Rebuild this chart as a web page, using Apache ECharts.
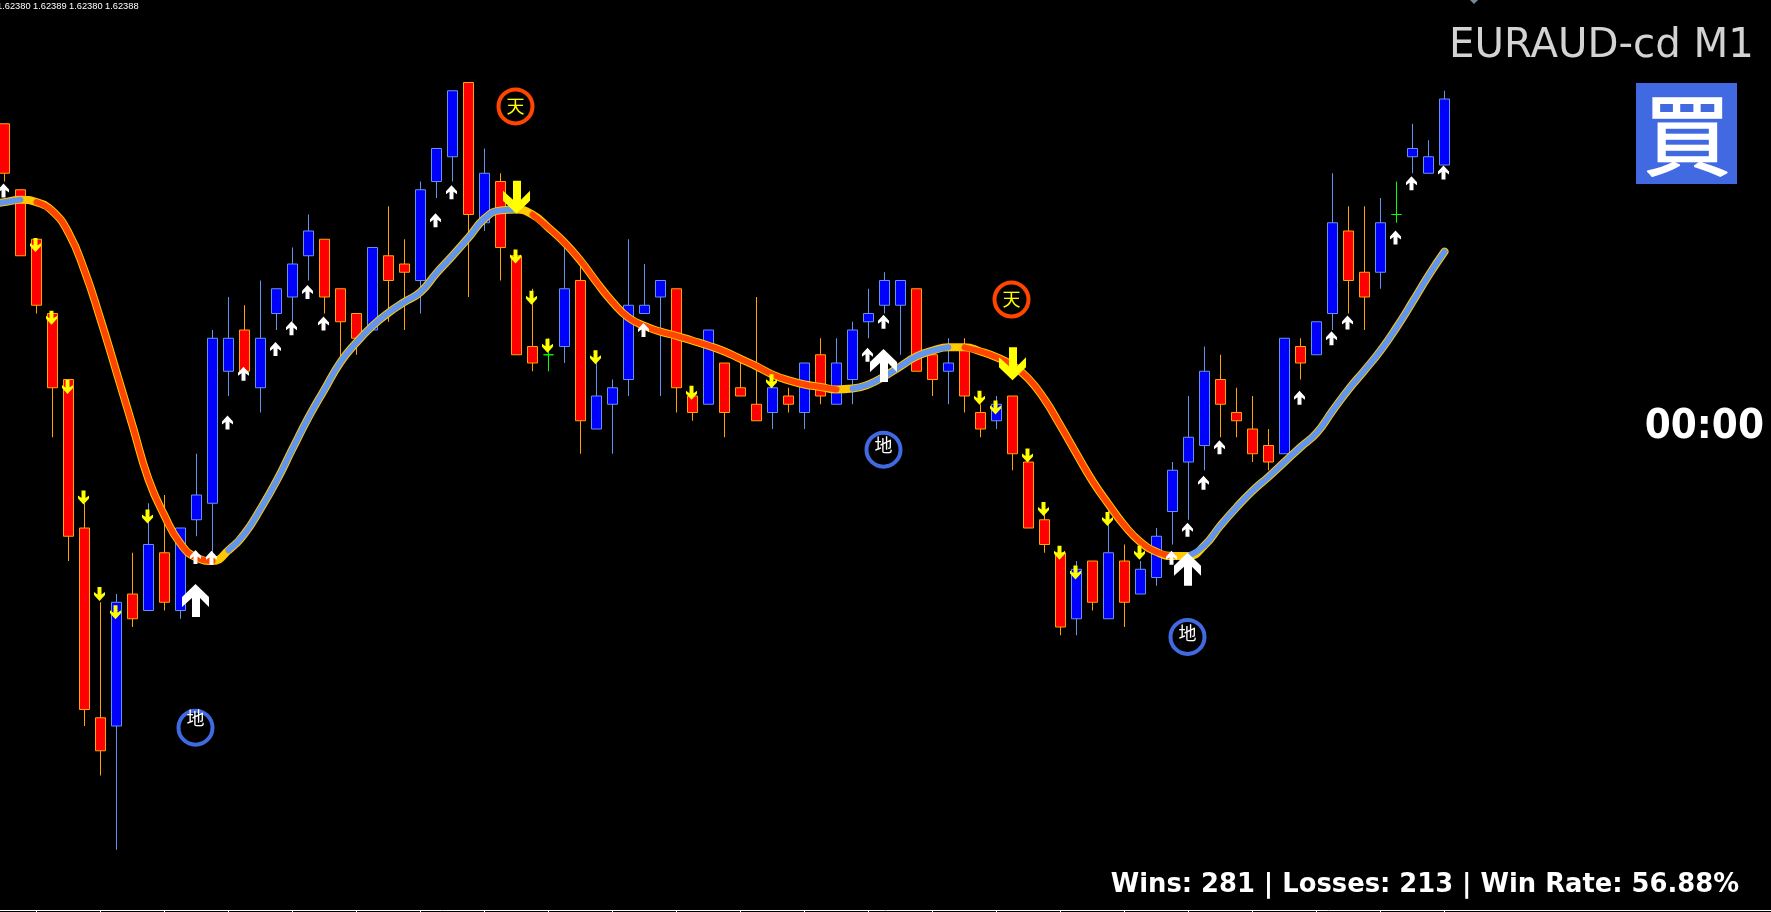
<!DOCTYPE html>
<html>
<head>
<meta charset="utf-8">
<style>html,body{margin:0;padding:0;background:#000}#c{width:1771px;height:912px}</style>
<script src="https://cdn.jsdelivr.net/npm/echarts@6/dist/echarts.min.js"></script>
</head>
<body>
<div id="c"></div>
<script>
// All prices are given in points (0.00001) relative to the last close.
const lastClose = 1.62388;
const openPts  = [-3,-11,-17,-26,-34,-52,-75,-76,-60,-62,-55,-62,-51,-49,-33,-28,-35,-26,-24,-19,-17,-23,-26,-28,-19,-20,-22,-10,-7,2,-15,-10,-19,-30,-31,-30,-22,-40,-37,-34,-26,-24,-23,-36,-37,-32,-35,-37,-38,-36,-38,-31,-37,-34,-27,-25,-25,-23,-31,-33,-30,-38,-39,-36,-44,-51,-55,-63,-56,-63,-56,-60,-58,-50,-44,-42,-34,-38,-40,-42,-43,-30,-31,-26,-16,-21,-21,-14,-7,-9,-8];
const closePts = [-9,-19,-25,-35,-53,-74,-79,-61,-63,-54,-61,-52,-48,-29,-29,-33,-29,-23,-20,-16,-24,-27,-29,-18,-22,-21,-11,-6,1,-14,-9,-18,-31,-32,-31,-23,-39,-36,-35,-25,-25,-22,-35,-38,-28,-38,-36,-39,-35,-37,-32,-36,-32,-28,-26,-22,-22,-33,-34,-32,-36,-40,-37,-43,-52,-54,-64,-57,-61,-55,-61,-57,-53,-45,-41,-33,-37,-39,-43,-44,-29,-32,-27,-15,-22,-24,-15,-14,-6,-7,0];
const highPts  = [-3,-11,-17,-26,-34,-49,-61,-60,-55,-49,-48,-52,-43,-28,-24,-25,-22,-23,-18,-14,-17,-23,-26,-18,-13,-17,-10,-6,1,2,-6,-9,-19,-23,-29,-18,-20,-31,-34,-17,-20,-22,-23,-35,-28,-32,-32,-24,-34,-35,-32,-29,-29,-27,-23,-21,-22,-23,-31,-29,-29,-37,-36,-36,-44,-50,-55,-56,-56,-49,-54,-56,-52,-44,-36,-30,-31,-35,-36,-40,-29,-29,-27,-9,-13,-13,-12,-10,-3,-5,1];
const lowPts   = [-10,-19,-26,-41,-56,-76,-82,-91,-64,-62,-62,-63,-53,-55,-36,-33,-38,-28,-27,-22,-26,-32,-31,-28,-27,-28,-26,-12,-10,-24,-16,-22,-31,-33,-33,-32,-43,-40,-43,-36,-26,-36,-38,-39,-37,-41,-36,-39,-40,-38,-40,-37,-37,-37,-29,-26,-31,-33,-36,-37,-38,-41,-40,-45,-52,-55,-65,-65,-62,-63,-64,-60,-59,-54,-51,-45,-41,-41,-44,-45,-43,-34,-31,-28,-26,-28,-23,-15,-9,-9,-8];
// Moving average: one value before the first visible candle, then one per candle.
const maBefore = -12.8;
const maPts = [-12.5,-12.2,-12.5,-13.6,-16.2,-20.8,-26.7,-33.1,-39.6,-46.1,-50.5,-53.9,-55.6,-56.0,-54.7,-52.7,-49.7,-46.3,-42.4,-38.6,-35.2,-31.9,-29.5,-27.5,-25.9,-24.6,-23.4,-21.1,-19.0,-16.8,-14.5,-13.5,-13.4,-14.0,-15.6,-17.4,-19.6,-22.2,-24.6,-26.5,-27.5,-28.2,-28.7,-29.3,-29.9,-30.6,-31.5,-32.4,-33.4,-34.1,-34.6,-34.9,-35.2,-35.1,-34.6,-33.6,-32.4,-31.2,-30.5,-30.1,-30.1,-30.6,-31.3,-32.3,-33.9,-36.4,-39.6,-43.0,-46.3,-49.1,-51.7,-53.7,-54.9,-55.4,-55.4,-54.1,-51.7,-49.5,-47.5,-45.8,-44.0,-42.2,-40.5,-37.8,-35.2,-32.9,-30.5,-27.7,-24.6,-21.4,-18.5];
// Trend colour runs of the moving average: [first candle, last candle]
const maUpRuns   = [[-1,1],[14,32],[53,59],[74,90]];
const maDownRuns = [[2,13],[33,52],[60,73]];
const smallUp   = [[0,-11.1],[12,-55.5],[13,-55.6],[14,-39.2],[15,-33.3],[17,-30.3],[18,-27.8],[19,-23.4],[20,-27.2],[27,-14.7],[28,-11.3],[40,-28.0],[54,-31.0],[55,-27.0],[73,-55.6],[74,-52.2],[75,-46.5],[76,-42.2],[81,-36.2],[83,-29.0],[84,-27.1],[87,-16.8],[88,-10.2],[90,-8.9]];
const smallDown = [[2,-17.7],[3,-26.5],[4,-34.9],[5,-48.3],[6,-60.0],[7,-62.2],[9,-50.6],[32,-19.1],[33,-24.1],[34,-29.9],[37,-31.3],[43,-35.6],[48,-34.2],[61,-36.2],[62,-37.4],[64,-43.2],[65,-49.7],[66,-55.0],[67,-57.4],[69,-50.9],[71,-55.0]];
const bigUp   = [[12,-60.8],[55,-32.3],[74,-57.0]];
const bigDown = [[32,-11.9],[63,-32.1]];
const tenMarks = [[32,-0.9],[63,-24.3]];
const chiMarks = [[55,-42.5,-4],[74,-65.2,-4],[12,-76.2,-10]];
const slotCount = 112;
const quoteTexts = ['1.62380','1.62389','1.62380','1.62388'];
const symbolText = 'EURAUD-cd M1';
const signalText = '買';
const timerText = '00:00';
const statsText = 'Wins: 281 | Losses: 213 | Win Rate: 56.88%';

const px = p => +(lastClose + p / 100000).toFixed(7);
// Slot 0 of the axis lies off the left edge, so candle i sits in slot i + 1.
const categories = Array.from({length: slotCount}, (_, i) => String(i));
const candles = ['-'].concat(openPts.map((o, i) => {
  const v = [px(o), px(closePts[i]), px(lowPts[i]), px(highPts[i])];
  if (o === closePts[i]) {
    return {value: v, itemStyle: {color: '#00ff00', color0: '#00ff00', borderColor: '#00ff00', borderColor0: '#00ff00', borderColorDoji: '#00ff00'}};
  }
  return v;
}));
const maSeries = [maBefore].concat(maPts);
const maAll = maSeries.map(px);
const runs = rs => maSeries.map((v, s) => rs.some(r => s - 1 >= r[0] && s - 1 <= r[1]) ? px(v) : null);
const pts = a => a.map(d => [String(d[0] + 1), px(d[1])]);

const upArrow = 'path://M5.5,0 L11,6 L11,9 L7.5,6.5 L7.5,14 L3.5,14 L3.5,6.5 L0,9 L0,6 Z';
const downArrow = 'path://M3.5,0 L7.5,0 L7.5,7.5 L11,5 L11,8 L5.5,14 L0,8 L0,5 L3.5,7.5 Z';
const bigUpArrow = 'path://M13.5,0 L27,13 L27,23 L18,14 L18,33 L10,33 L10,14 L0,23 L0,13 Z';
const bigDownArrow = 'path://M10,0 L18,0 L18,19 L27,10 L27,20 L13.5,33 L0,20 L0,10 L10,19 Z';

const arrow = (name, data, sym, size, color, z, off) => ({
  name, type: 'scatter', data: pts(data), symbol: sym, symbolSize: size, symbolOffset: off || [-1, 0],
  itemStyle: {color, opacity: 1}, z, silent: true, animation: false
});
const ring = (name, marks, color, textColor) => ({
  name, type: 'custom', z: 9, silent: true, animation: false,
  data: marks.map(m => [String(m[0] + 1), px(m[1])]),
  renderItem: (params, api) => {
    const p = api.coord([api.value(0), api.value(1)]);
    const dy = marks[params.dataIndex][2] || 0;
    return {type: 'group', children: [
      {type: 'circle', shape: {cx: p[0] - 1, cy: p[1], r: 17}, style: {fill: 'none', stroke: color, lineWidth: 4}},
      {type: 'text', x: p[0] - 1, y: p[1] + dy, style: {text: name, fill: textColor, fontSize: 18, fontFamily: '"Noto Sans CJK JP"', align: 'center', verticalAlign: 'middle'}}
    ]};
  }
});

const chart = echarts.init(document.getElementById('c'), null, {renderer: 'canvas'});
chart.setOption({
  animation: false,
  backgroundColor: '#000000',
  grid: {left: -19.5, top: 0, width: 16 * slotCount, height: 910, containLabel: false, outerBoundsMode: 'none'},
  xAxis: {
    type: 'category', data: categories, boundaryGap: true,
    axisLine: {show: true, onZero: false, lineStyle: {color: '#ffffff', width: 1}},
    axisTick: {show: true, length: 2, alignWithLabel: true, interval: i => i % 4 === 3 && i <= 91, lineStyle: {color: '#ffffff'}},
    axisLabel: {show: false}, splitLine: {show: false}
  },
  yAxis: {
    type: 'value', min: 1.622897, max: 1.624, scale: true,
    axisLine: {show: false}, axisTick: {show: false}, axisLabel: {show: false}, splitLine: {show: false}
  },
  series: [
    {name: 'Bid', type: 'line', data: [], z: 1, silent: true,
      markLine: {silent: true, symbol: 'none', animation: false, label: {show: false},
        lineStyle: {color: '#778899', width: 1, type: 'solid'}, data: [{yAxis: lastClose}]}},
    {name: 'EURAUD', type: 'candlestick', data: candles, barWidth: 10, z: 2, silent: true,
      itemStyle: {color: '#0000ff', color0: '#ff0000', borderColor: '#6495ed', borderColor0: '#ffa500', borderWidth: 1}},
    {name: 'MA edge', type: 'line', data: maAll, smooth: 0.5, symbol: 'none', z: 3, silent: true, connectNulls: false,
      lineStyle: {color: '#ffc800', width: 8, cap: 'round', join: 'round'}},
    {name: 'MA up', type: 'line', data: runs(maUpRuns), smooth: 0.5, symbol: 'none', z: 4, silent: true, connectNulls: false,
      lineStyle: {color: '#6495ed', width: 6, cap: 'round', join: 'round'}},
    {name: 'MA down', type: 'line', data: runs(maDownRuns), smooth: 0.5, symbol: 'none', z: 4, silent: true, connectNulls: false,
      lineStyle: {color: '#ff4500', width: 6, cap: 'round', join: 'round'}},
    arrow('Up', smallUp, upArrow, [11, 14], '#ffffff', 6),
    arrow('Down', smallDown, downArrow, [11, 14], '#ffff00', 6),
    arrow('Big up', bigUp, bigUpArrow, [27, 33], '#ffffff', 7),
    arrow('Big down', bigDown, bigDownArrow, [27, 33], '#ffff00', 7, [0, 0]),
    ring('天', tenMarks, '#ff4500', '#ffff00'),
    ring('地', chiMarks, '#4169e1', '#ffffff')
  ],
  graphic: [
    {type: 'group', silent: true, children: quoteTexts.map((t, i) => ({
      type: 'text', x: -3 + 36 * i, y: 1.5, z: 20,
      style: {text: t, fill: '#ffffff', fontSize: 9.3, fontFamily: '"Liberation Sans"', align: 'left', verticalAlign: 'top'}
    }))},
    {type: 'polygon', silent: true, shape: {points: [[1470, 0], [1478, 0], [1474, 4]]}, style: {fill: '#778899'}, z: 20},
    {type: 'text', silent: true, x: 1754, y: 47, z: 20,
      style: {text: symbolText, fill: '#d3d3d3', fontSize: 40.3, fontFamily: '"DejaVu Sans"', align: 'right', verticalAlign: 'middle'}},
    {type: 'rect', silent: true, shape: {x: 1636, y: 83, width: 101, height: 101}, style: {fill: '#4169e1'}, z: 20},
    {type: 'text', silent: true, x: 1687, y: 135, z: 21,
      style: {text: signalText, fill: '#ffffff', stroke: '#ffffff', lineWidth: 1.5, fontSize: 88, fontFamily: '"Noto Sans CJK JP"', align: 'center', verticalAlign: 'middle'}},
    {type: 'text', silent: true, x: 1764, y: 428, scaleY: 1.07, z: 20,
      style: {text: timerText, fill: '#ffffff', fontSize: 37.5, fontWeight: 'bold', fontFamily: '"DejaVu Sans"', align: 'right', verticalAlign: 'middle'}},
    {type: 'text', silent: true, x: 1739, y: 885, z: 20,
      style: {text: statsText, fill: '#ffffff', fontSize: 25.8, fontWeight: 'bold', fontFamily: '"DejaVu Sans"', align: 'right', verticalAlign: 'middle'}}
  ]
});
</script>
</body>
</html>
